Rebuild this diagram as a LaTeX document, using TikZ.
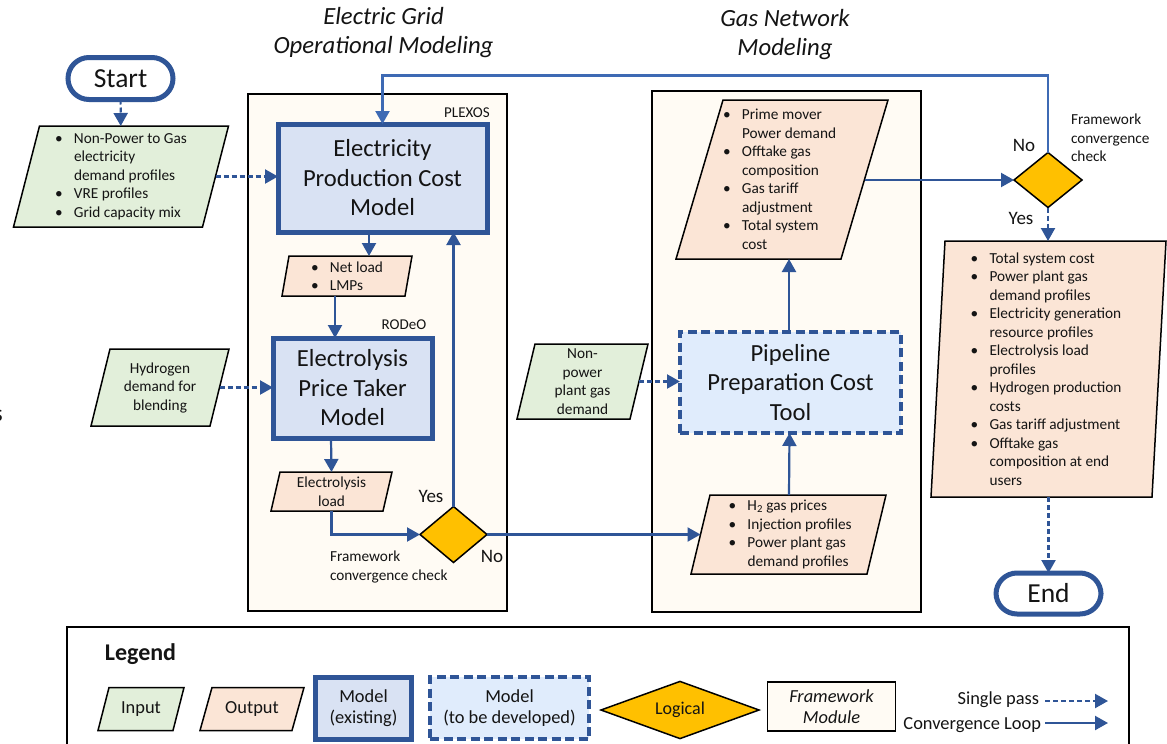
\documentclass[tikz,border=0pt]{standalone}
\usepackage{fontspec}
\setmainfont{Carlito}
\usetikzlibrary{arrows.meta,shapes.geometric}
\definecolor{flow}{RGB}{47,85,151}
\definecolor{loopline}{RGB}{62,106,180}
\definecolor{ingreen}{RGB}{226,239,218}
\definecolor{outorange}{RGB}{251,229,214}
\definecolor{modelblue}{RGB}{217,226,243}
\definecolor{newblue}{RGB}{224,236,252}
\definecolor{frameback}{RGB}{255,251,244}
\definecolor{gold}{RGB}{255,192,0}
\definecolor{ink}{RGB}{20,20,20}
\tikzset{
  txt/.style={inner sep=0pt,outer sep=0pt,align=center,text=ink,font=\fontsize{15.3}{18.5}\selectfont},
  txtl/.style={txt,align=left},
  pgon/.style={draw=black,line width=1.5pt,fill=#1},
  solidflow/.style={draw=flow,line width=2.2pt,-{Triangle[length=13pt,width=14pt]}},
  dashflow/.style={draw=flow,line width=2.2pt,dash pattern=on 5pt off 3pt,-{Triangle[length=13pt,width=14pt]}},
  modelbox/.style={draw=flow,line width=5pt,fill=modelblue,inner sep=0pt,outer sep=0pt,align=center,text=ink,font=\fontsize{24.6}{29.5}\selectfont},
  newbox/.style={draw=flow,line width=4.5pt,dash pattern=on 9pt off 4.5pt,fill=newblue,inner sep=0pt,outer sep=0pt,align=center,text=ink,font=\fontsize{24.6}{29.5}\selectfont},
  framebox/.style={draw=black,line width=2.4pt,fill=frameback,inner sep=0pt,outer sep=0pt},
  logic/.style={diamond,draw=black,line width=1.5pt,fill=gold,inner sep=0pt,outer sep=0pt,aspect=1.2,text=ink,font=\fontsize{18}{21}\selectfont},
  term/.style={rounded corners=21pt,draw=flow,line width=5pt,fill=white,inner sep=0pt,outer sep=0pt,text=ink,font=\fontsize{27.5}{30}\selectfont},
  heading/.style={inner sep=0pt,align=center,text=ink,font=\fontsize{24.7}{29}\selectfont\itshape},
  lbl/.style={txt,font=\fontsize{19}{21}\selectfont},
  leg/.style={txt,font=\fontsize{18.4}{21}\selectfont},
}
% name, cx, cy, overall width, height, slant offset, fill, text
\newcommand\para[8]{%
  \path[pgon=#7] ({#2-#4/2+#6},{#3-#5/2}) -- ({#2+#4/2},{#3-#5/2}) -- ({#2+#4/2-#6},{#3+#5/2}) -- ({#2-#4/2},{#3+#5/2}) -- cycle;
  \node[txt,rectangle,minimum width={(#4-#6)*1pt},minimum height={#5*1pt}] (#1) at (#2,#3) {#8};}
\newcommand\bl[1]{\par\noindent\hangindent=19pt\hangafter=1\makebox[19pt][l]{•}#1}
\newcommand\blist[2]{\makebox[0pt][l]{\hspace*{#1pt}\raisebox{-1pt}{\begin{minipage}[c]{300pt}\fontsize{15.3}{18.5}\selectfont #2\end{minipage}}}}
\begin{document}
\begin{tikzpicture}[x=1pt,y=-1pt]
\useasboundingbox (0,0) rectangle (1167,744);
\clip (0,0) rectangle (1167,744);
\fill[white] (0,0) rectangle (1167,744);

% titles
\node[heading] (t1) at (383.5,32.5) {Electric Grid\\Operational Modeling};
\node[heading] (t2) at (785,34.5) {Gas Network\\Modeling};
\node[inner sep=0pt,text=ink,font=\fontsize{24}{28}\selectfont] (edge) at (-2,416) {s};

% module frames
\node[framebox,minimum width=259pt,minimum height=517pt] (f1) at (377.5,352.5) {};
\node[framebox,minimum width=269pt,minimum height=521pt] (f2) at (786.5,351.5) {};
\node[txt,font=\fontsize{15}{18}\selectfont] (plexos) at (467,113) {PLEXOS};
\node[txt,font=\fontsize{15}{18}\selectfont] (rodeo) at (404,325) {RODeO};

% start / end
\node[term,minimum width=105pt,minimum height=42pt] (start) at (120.5,78.5) {Start};
\node[term,minimum width=105pt,minimum height=41pt] (finish) at (1048.5,593.5) {End};

% inputs
\para{in1}{121}{176.5}{215}{101}{26}{ingreen}{\blist{-66}{%
  \bl{Non-Power to Gas\\electricity\\demand profiles}\bl{VRE profiles}\bl{Grid capacity mix}}}
\para{in2}{160}{387.5}{138}{77}{19}{ingreen}{Hydrogen\\demand for\\blending}
\para{in3}{582.5}{381.5}{131}{75}{18}{ingreen}{Non-\\power\\plant gas\\demand}

% models
\node[modelbox,minimum width=209pt,minimum height=108pt] (epc) at (382.5,178) {Electricity\\Production Cost\\Model};
\node[modelbox,minimum width=159pt,minimum height=100pt] (ept) at (352.5,388) {Electrolysis\\Price Taker\\Model};
\node[newbox,minimum width=221pt,minimum height=101pt] (ppc) at (790.5,382.5) {Pipeline\\Preparation Cost\\Tool};

% outputs
\para{net}{347}{276}{130}{40}{7}{outorange}{\blist{-36}{\bl{Net load}\bl{LMPs}}}
\para{eload}{331.5}{491.5}{121}{39}{9}{outorange}{Electrolysis\\load}
\para{gasout}{782}{179.5}{212}{159}{47}{outorange}{\blist{-59}{%
  \bl{Prime mover\\Power demand}\bl{Offtake gas\\composition}\bl{Gas tariff\\adjustment}\bl{Total system\\cost}}}
\para{h2}{788.5}{534.5}{195}{79}{19}{outorange}{\blist{-60}{%
  \bl{H\textsubscript{2} gas prices}\bl{Injection profiles}\bl{Power plant gas\\demand profiles}}}
\para{res}{1048.5}{369}{235}{256}{14}{outorange}{\blist{-78}{%
  \bl{Total system cost}\bl{Power plant gas\\demand profiles}\bl{Electricity generation\\resource profiles}\bl{Electrolysis load\\profiles}\bl{Hydrogen production\\costs}\bl{Gas tariff adjustment}\bl{Offtake gas\\composition at end\\users}}}

% decisions
\node[logic,minimum width=67pt,minimum height=56pt] (d1) at (453.5,534.5) {};
\node[logic,minimum width=68pt,minimum height=55pt] (d2) at (1048,180) {};

% labels
\node[lbl] (yes1) at (431,496.5) {Yes};
\node[lbl] (no1) at (492,556.5) {No};
\node[lbl] (no2) at (1024,145.5) {No};
\node[lbl] (yes2) at (1021,218.5) {Yes};
\node[txtl,anchor=west] (chk1) at (330,567) {Framework\\convergence check};
\node[txtl,anchor=west] (chk2) at (1071,138) {Framework\\convergence\\check};

% connectors
\draw[dashflow] (start) -- (in1);
\draw[dashflow] (in1) -- (epc.west |- in1);
\draw[dashflow] (in2) -- (ept.west |- in2);
\draw[dashflow] (in3) -- (ppc.west |- in3);
\draw[solidflow] ([xshift=-13.5pt]epc.south) -- ([xshift=22pt]net.north);
\draw[solidflow] ([xshift=-12pt]net.south) -- ([xshift=-17.5pt]ept.north);
\draw[solidflow] ([xshift=-21.5pt]ept.south) -- (eload.north);
\draw[solidflow] (eload.south) |- (d1.west);
\draw[solidflow] (d1.north) -- (d1.north |- epc.south);
\draw[solidflow] (d1.east) -- (h2.west |- d1.east);
\draw[solidflow] ([xshift=.5pt]h2.north) -- ([xshift=-1pt]ppc.south);
\draw[solidflow] ([xshift=-1.5pt]ppc.north) -- ([xshift=7pt]gasout.south);
\draw[solidflow] (gasout.east |- d2.west) -- (d2.west);
\draw[solidflow,draw=loopline] (d2.north) -- ++(0,-77) -| (epc.north);
\draw[dashflow] (d2.south) -- (d2.south |- res.north);
\draw[dashflow] (res.south -| finish.north) -- (finish.north);

% legend
\node[draw=black,line width=2.4pt,fill=white,minimum width=1062pt,minimum height=140pt,inner sep=0pt,outer sep=0pt] (legendbox) at (598,697) {};
\node[txt,font=\fontsize{24}{26}\selectfont\bfseries] (legtitle) at (140.5,654.5) {Legend};
\para{li}{141}{709}{86}{43}{11}{ingreen}{\raisebox{-1.5pt}{\fontsize{18.4}{21}\selectfont Input}}
\para{lo}{252}{709}{104}{43}{12}{outorange}{\raisebox{-1.5pt}{\fontsize{18.4}{21}\selectfont Output}}
\node[modelbox,leg,minimum width=96pt,minimum height=62pt] (lm) at (363.5,708) {Model\\(existing)};
\node[newbox,leg,minimum width=159pt,minimum height=62pt] (ln) at (509.5,708) {Model\\(to be developed)};
\node[logic,minimum width=158pt,minimum height=47pt] (ld) at (680,710) {Logical};
\node[draw=black,line width=1.5pt,fill=frameback,minimum width=128pt,minimum height=49pt,inner sep=0pt,align=center,text=ink,font=\fontsize{18.4}{21}\selectfont\itshape] (lf) at (831.5,706.5) {Framework\\Module};
\node[leg,anchor=east] (ls) at (1039,699.5) {Single pass};
\node[leg,anchor=east] (lc) at (1041,725) {Convergence Loop};
\coordinate (lse) at (1108,701);
\coordinate (lce) at (1108,723);
\draw[dashflow] (ls.east |- lse) ++(6,0) -- (lse);
\draw[solidflow] (lc.east |- lce) ++(4,0) -- (lce);
\end{tikzpicture}
\end{document}
